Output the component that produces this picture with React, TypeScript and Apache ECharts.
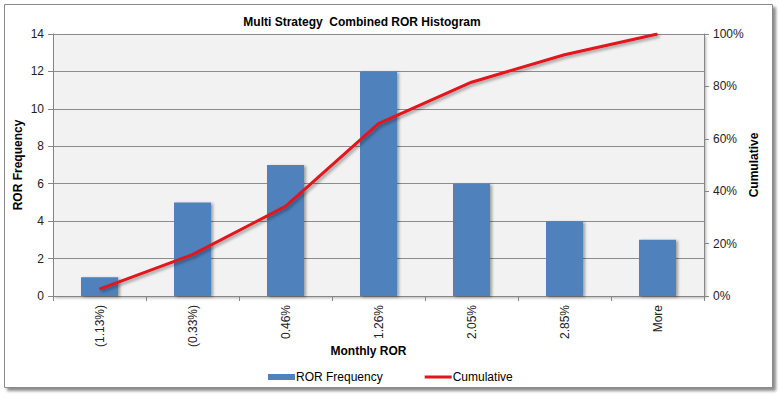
import React, { useEffect, useRef } from "react";
import * as echarts from "echarts";

const categories = ["(1.13%)", "(0.33%)", "0.46%", "1.26%", "2.05%", "2.85%", "More"];
const frequency = [1, 5, 7, 12, 6, 4, 3];
const cumulative = [2.6, 15.8, 34.2, 65.8, 81.6, 92.1, 100];

const FONT = "'Liberation Sans', Arial, sans-serif";

export default function App() {
  const ref = useRef<HTMLDivElement>(null);
  useEffect(() => {
    if (!ref.current) return;
    const chart = echarts.init(ref.current, undefined, { renderer: "svg" });
    chart.setOption({
      animation: false,
      backgroundColor: "#ffffff",
      textStyle: { fontFamily: FONT },
      graphic: [
        {
          type: "rect",
          z: -10,
          silent: true,
          shape: { x: 4.5, y: 4.5, width: 768, height: 383 },
          style: {
            fill: "#ffffff",
            stroke: "#8a8a8a",
            lineWidth: 1,
            shadowColor: "rgba(0,0,0,0.45)",
            shadowBlur: 3,
            shadowOffsetX: 3,
            shadowOffsetY: 3,
          },
        },
      ],
      title: {
        text: "Multi Strategy  Combined ROR Histogram",
        left: 357,
        textAlign: "center",
        top: 11,
        textStyle: { fontFamily: FONT, fontSize: 12, fontWeight: "bold", color: "#000" },
      },
      legend: {
        left: 263,
        top: 366,
        itemGap: 42,
        itemWidth: 27,
        itemHeight: 6,
        textStyle: { fontFamily: FONT, fontSize: 12, color: "#000", padding: [0, 0, 0, -4] },
        data: [
          { name: "ROR Frequency", icon: "rect" },
          {
            name: "Cumulative",
            icon: "path://M0,0 L0.01,0 L0.01,0.01 Z M0,6 L0.01,6 L0.01,5.99 Z M0,1.5 L27,1.5 L27,4.5 L0,4.5 Z",
            itemStyle: { color: "#e2131a" },
          },
        ],
      },
      grid: {
        left: 53,
        right: 78,
        top: 34,
        bottom: 102,
        outerBoundsMode: "none",
        containLabel: false,
        show: true,
        backgroundColor: "#f2f2f2",
        borderWidth: 0,
        shadowColor: "rgba(0,0,0,0.3)",
        shadowBlur: 3,
        shadowOffsetX: 2,
        shadowOffsetY: 2,
      },
      xAxis: {
        type: "category",
        data: categories,
        name: "Monthly ROR",
        nameLocation: "middle",
        nameGap: 49,
        nameMoveOverlap: false,
        nameTextStyle: { fontFamily: FONT, fontSize: 12, fontWeight: "bold", color: "#000", padding: [0, 20, 0, 0] },
        axisLine: { lineStyle: { color: "#868686", width: 1 } },
        axisTick: { show: true, length: 5, alignWithLabel: false, lineStyle: { color: "#868686" } },
        axisLabel: { rotate: 90, margin: 9, fontFamily: FONT, fontSize: 12, color: "#222" },
      },
      yAxis: [
        {
          type: "value",
          min: 0,
          max: 14,
          interval: 2,
          name: "ROR Frequency",
          nameLocation: "middle",
          nameRotate: 90,
          nameGap: 29,
          nameMoveOverlap: false,
          nameTextStyle: { fontFamily: FONT, fontSize: 12, fontWeight: "bold", color: "#000" },
          axisLine: { show: true, lineStyle: { color: "#868686" } },
          axisTick: { show: true, length: 5, lineStyle: { color: "#868686" } },
          axisLabel: { margin: 9, fontFamily: FONT, fontSize: 12, color: "#222" },
          splitLine: { show: true, lineStyle: { color: "#8c8c8c", width: 1 } },
        },
        {
          type: "value",
          min: 0,
          max: 100,
          interval: 20,
          position: "right",
          name: "Cumulative",
          nameLocation: "middle",
          nameRotate: 90,
          nameGap: 44,
          nameMoveOverlap: false,
          nameTextStyle: { fontFamily: FONT, fontSize: 12, fontWeight: "bold", color: "#000" },
          axisLine: { show: true, lineStyle: { color: "#868686" } },
          axisTick: { show: true, length: 5, lineStyle: { color: "#868686" } },
          axisLabel: { margin: 9, fontFamily: FONT, fontSize: 12, color: "#222", formatter: "{value}%" },
          splitLine: { show: false },
        },
      ],
      series: [
        {
          name: "ROR Frequency",
          type: "bar",
          data: frequency,
          yAxisIndex: 0,
          barWidth: 37,
          itemStyle: {
            color: "#4f81bd",
            shadowColor: "rgba(0,0,0,0.35)",
            shadowBlur: 3,
            shadowOffsetX: 2,
            shadowOffsetY: 1,
          },
        },
        {
          name: "Cumulative",
          type: "line",
          data: cumulative,
          yAxisIndex: 1,
          symbol: "none",
          showSymbol: false,
          lineStyle: {
            color: "#e2131a",
            width: 3,
            shadowColor: "rgba(0,0,0,0.35)",
            shadowBlur: 3,
            shadowOffsetX: 2,
            shadowOffsetY: 2,
          },
          itemStyle: { color: "#e2131a" },
        },
      ],
    });
    return () => chart.dispose();
  }, []);
  return (
    <div
      ref={ref}
      style={{ position: "absolute", left: 0, top: 0, width: 782, height: 398 }}
    />
  );
}
